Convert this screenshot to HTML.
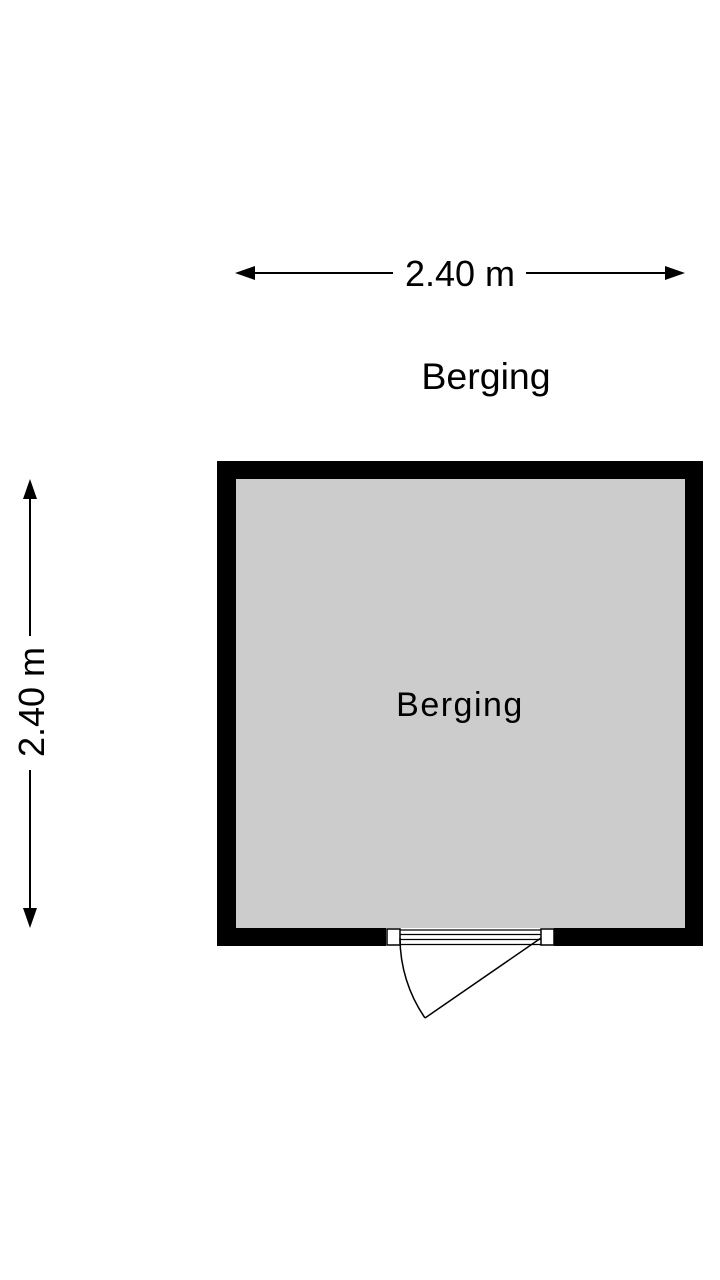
<!DOCTYPE html>
<html><head><style>html,body{margin:0;padding:0;background:#fff}svg{display:block}</style></head>
<body>
<svg width="720" height="1280" viewBox="0 0 720 1280" xmlns="http://www.w3.org/2000/svg" font-family="Liberation Sans, sans-serif">
<!-- top dimension -->
<line x1="250" y1="273" x2="393" y2="273" stroke="#000" stroke-width="2"/>
<line x1="526" y1="273" x2="670" y2="273" stroke="#000" stroke-width="2"/>
<polygon points="235,273 255,266 255,280" fill="#000"/>
<polygon points="685,273 665,266 665,280" fill="#000"/>
<text x="460" y="286" font-size="36" text-anchor="middle">2.40 m</text>
<text x="486" y="389" font-size="37.5" text-anchor="middle">Berging</text>
<!-- left dimension -->
<line x1="30" y1="495" x2="30" y2="636" stroke="#000" stroke-width="2"/>
<line x1="30" y1="770" x2="30" y2="912" stroke="#000" stroke-width="2"/>
<polygon points="30,479 23,499 37,499" fill="#000"/>
<polygon points="30,928 23,908 37,908" fill="#000"/>
<text transform="translate(44,702) rotate(-90)" font-size="36" text-anchor="middle">2.40 m</text>
<!-- walls -->
<rect x="217" y="461" width="486" height="485" fill="#000"/>
<rect x="236" y="479" width="449" height="449" fill="#cccccc"/>
<!-- door opening -->
<rect x="386" y="928" width="168" height="18" fill="#fff"/>
<rect x="387" y="929" width="13" height="16" fill="#fff" stroke="#000" stroke-width="1.5"/>
<rect x="541" y="929" width="13" height="16" fill="#fff" stroke="#000" stroke-width="1.5"/>
<line x1="400" y1="930" x2="541" y2="930" stroke="#000" stroke-width="1.3"/>
<line x1="400" y1="934.5" x2="541" y2="934.5" stroke="#000" stroke-width="1.3"/>
<line x1="400" y1="939.5" x2="541" y2="939.5" stroke="#000" stroke-width="1.3"/>
<line x1="400" y1="944.5" x2="541" y2="944.5" stroke="#000" stroke-width="1.3"/>
<line x1="541" y1="938" x2="425" y2="1018" stroke="#000" stroke-width="1.5"/>
<path d="M400,938 A141,141 0 0 0 425,1018" fill="none" stroke="#000" stroke-width="1.5"/>
<text x="460" y="716" font-size="34" text-anchor="middle" letter-spacing="1.5">Berging</text>
</svg>
</body></html>
